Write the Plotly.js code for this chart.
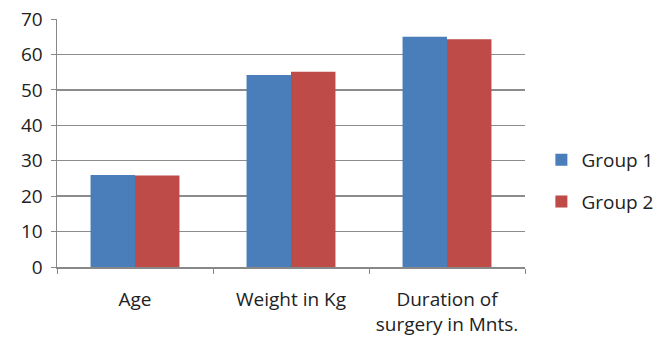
<!DOCTYPE html>
<html><head><meta charset="utf-8">
<script src="https://cdn.plot.ly/plotly-3.0.1.min.js"></script>
<style>html,body{margin:0;padding:0;background:#fff}#c{width:656px;height:343px}</style>
</head><body><div id="c"></div>
<script>
var categories = ["Age", "Weight in Kg", "Duration of<br>surgery in Mnts."];
var group1 = [26.0, 54.2, 65.0];
var group2 = [25.8, 55.1, 64.3];
var seriesNames = ["Group 1", "Group 2"];
var tickValues = [0, 10, 20, 30, 40, 50, 60, 70];

var font = {family: "Open Sans, Lato, sans-serif", size: 19, color: "#222"};
var data = [
  {type: "bar", x: categories, y: group1, name: seriesNames[0], legendgroup: "a",
   marker: {color: "#4a7ebb"}},
  {type: "bar", x: categories, y: group2, name: seriesNames[1], legendgroup: "b",
   marker: {color: "#be4b48"}}
];
var layout = {
  width: 656, height: 343,
  margin: {l: 57, r: 131, t: 19, b: 76, autoexpand: false},
  paper_bgcolor: "#fff", plot_bgcolor: "#fff",
  font: font,
  barmode: "group", bargap: 0.43, bargroupgap: 0,
  showlegend: true,
  legend: {x: 1.035, y: 0.347, xanchor: "left", yanchor: "middle",
           font: font, tracegroupgap: 14, itemwidth: 30},
  xaxis: {showgrid: false, showline: true, linecolor: "#888", linewidth: 1.5,
          ticks: "outside", tickson: "boundaries", ticklen: 5, tickcolor: "#888",
          tickfont: font, ticklabelstandoff: 15, fixedrange: true, automargin: false},
  yaxis: {range: [0, 70], tickvals: tickValues, showgrid: true, gridcolor: "#8c8c8c",
          gridwidth: 1.5, showline: true, linecolor: "#888", linewidth: 1.5,
          ticks: "outside", ticklen: 5, tickcolor: "#888", zeroline: false,
          tickfont: font, ticklabelstandoff: 4, fixedrange: true, automargin: false}
};
Plotly.newPlot("c", data, layout, {displayModeBar: false, staticPlot: true});
</script></body></html>
